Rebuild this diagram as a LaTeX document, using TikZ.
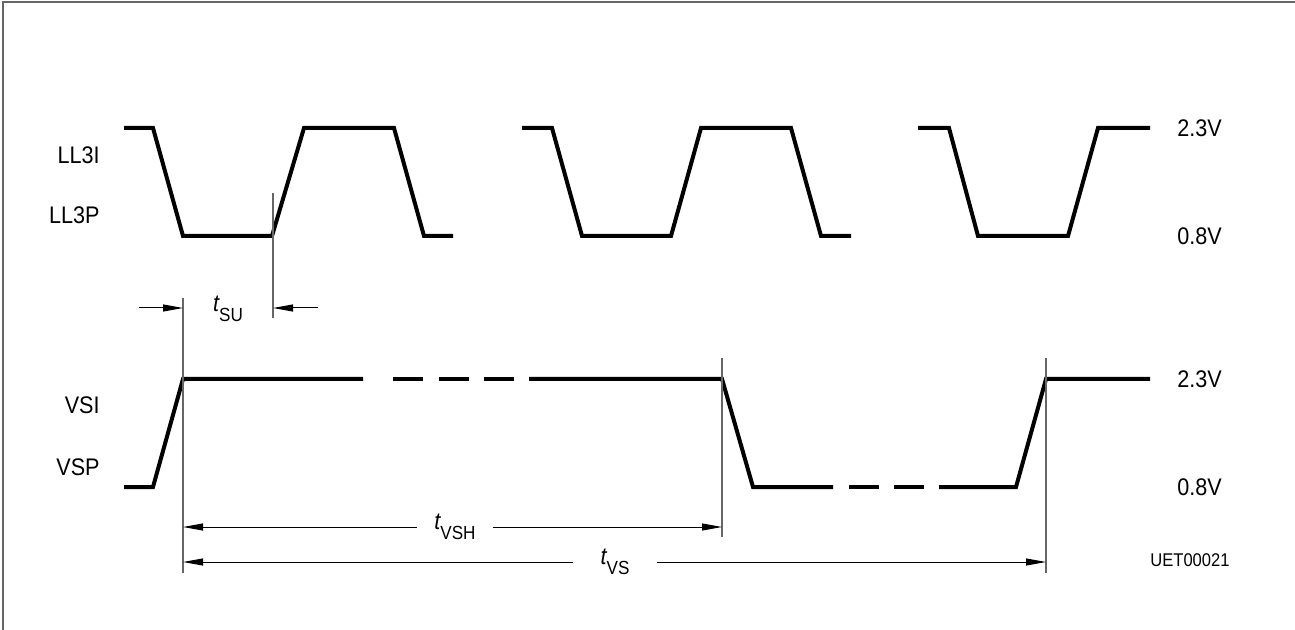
\documentclass[tikz,border=0pt]{standalone}
\usepackage{fontspec}
\setmainfont[FakeStretch=0.9]{Liberation Sans}
\usetikzlibrary{arrows.meta}

\newcommand{\tsym}[1]{{\itshape t}\raisebox{-4.8pt}{\fontsize{9.5}{10}\selectfont #1}}

\begin{document}
\begin{tikzpicture}[x=0.5pt, y=-0.5pt,
    wave/.style={line width=2pt, line join=miter},
    refline/.style={line width=0.65pt, black!60},
    dim/.style={line width=0.5pt, -{Triangle[length=10pt,width=3.5pt]}},
    sig/.style={font=\fontsize{12}{14}\selectfont, anchor=east, inner sep=0pt},
    lvl/.style={font=\fontsize{12}{14}\selectfont, anchor=west, inner sep=0pt},
    tlab/.style={font=\fontsize{12}{14}\selectfont, inner ysep=0pt}]
    \useasboundingbox (0,0) rectangle (1295,630);
    \draw[black!60, line width=1pt] (3,630) -- (3,2) -- (1295,2);

    % signal names and levels
    \node[sig] (ll3i) at (100,155) {LL3I};
    \node[sig] (ll3p) at (100,215) {LL3P};
    \node[sig] (vsi) at (100,405) {VSI};
    \node[sig] (vsp) at (100,467) {VSP};
    \node[lvl] (hiA) at (1177,128) {2.3V};
    \node[lvl] (loA) at (1177,236) {0.8V};
    \node[lvl] (hiB) at (1177,379) {2.3V};
    \node[lvl] (loB) at (1177,487) {0.8V};
    \node[anchor=west, inner sep=0pt, font=\fontsize{9.2}{10}\selectfont] (code) at (1150,560) {UET00021};

    % LL3 input
    \draw[wave] (124,128) -- (153,128) -- (183,236) -- (272,236) -- (304,128) -- (394,128) -- (424,236) -- (453,236);
    \draw[wave] (522,128) -- (552,128) -- (582,236) -- (671,236) -- (701,128) -- (791,128) -- (821,236) -- (851,236);
    \draw[wave] (918,128) -- (949,128) -- (978,236) -- (1068,236) -- (1098,128) -- (1150,128);

    % VS input
    \draw[wave] (124,487) -- (153,487) -- (183,379) -- (363,379);
    \foreach \a in {393,439,484}
        \draw[wave] (\a,379) -- ++(30,0);
    \draw[wave] (529,379) -- (722,379) -- (753,487) -- (833,487);
    \foreach \a in {849,894}
        \draw[wave] (\a,487) -- ++(30,0);
    \draw[wave] (939,487) -- (1016,487) -- (1046,379) -- (1150,379);

    % reference lines
    \coordinate (r1t) at (183,298);
    \coordinate (r1b) at (183,573);
    \coordinate (r2t) at (273,193);
    \coordinate (r2b) at (273,318);
    \coordinate (r3t) at (722,358);
    \coordinate (r3b) at (722,537);
    \coordinate (r4t) at (1046,358);
    \coordinate (r4b) at (1046,573);
    \draw[refline] (r1t) -- (r1b);
    \draw[refline] (r2t) -- (r2b);
    \draw[refline] (r3t) -- (r3b);
    \draw[refline] (r4t) -- (r4b);

    % timing
    \node[tlab] (tsu) at (228,309) {\tsym{SU}};
    \coordinate (suL) at (139,308);
    \coordinate (suR) at (318,308);
    \draw[dim] (suL) -- (suL -| r1t);
    \draw[dim] (suR) -- (suR -| r2t);

    \node[tlab, inner xsep=8.5pt] (tvsh) at (455,527) {\tsym{VSH}};
    \draw[dim] (tvsh.west) -- (tvsh.west -| r1t);
    \draw[dim] (tvsh.east) -- (tvsh.east -| r3t);

    \node[tlab, inner xsep=13.5pt] (tvs) at (615,562) {\tsym{VS}};
    \draw[dim] (tvs.west) -- (tvs.west -| r1t);
    \draw[dim] (tvs.east) -- (tvs.east -| r4t);
\end{tikzpicture}
\end{document}
